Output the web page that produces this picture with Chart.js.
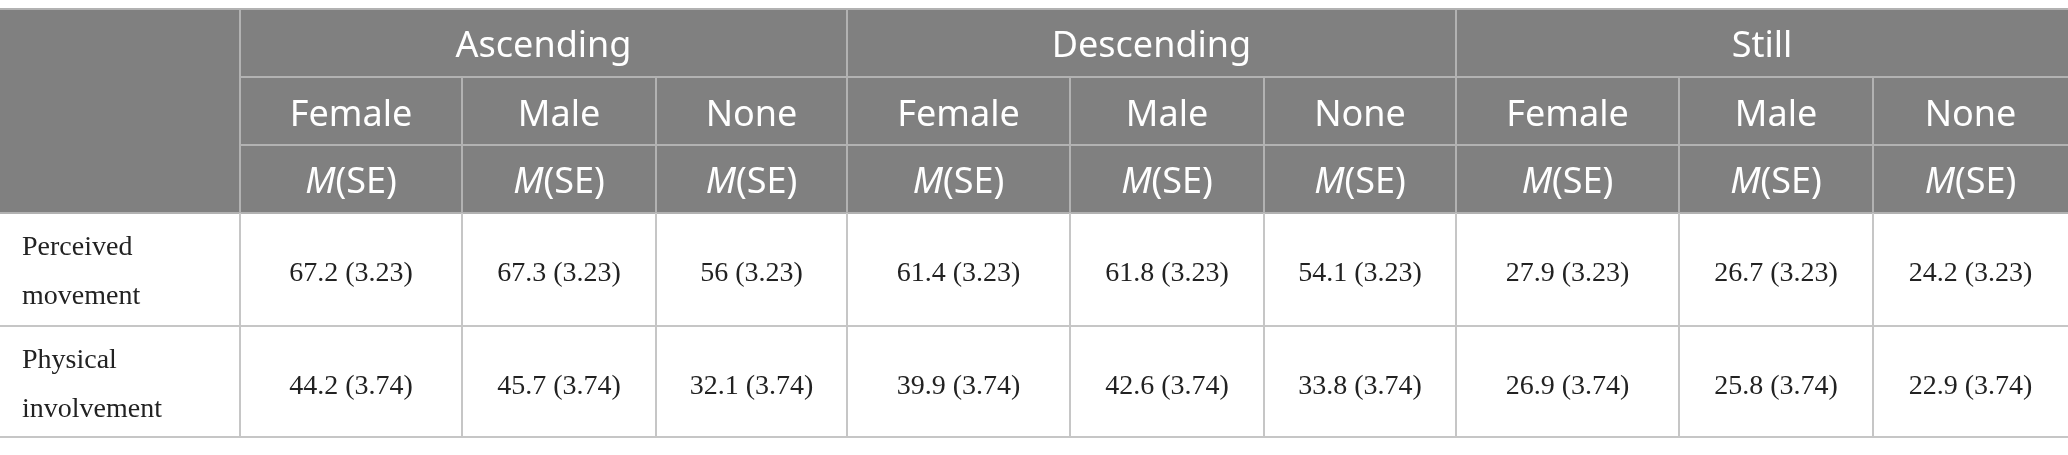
<!DOCTYPE html>
<html>
<head>
<meta charset="utf-8">
<script src="https://cdn.jsdelivr.net/npm/chart.js@4/dist/chart.umd.min.js"></script>
<style>
    html, body { margin: 0; padding: 0; background: #fff; }
    #wrap { width: 2068px; height: 455px; }
</style>
</head>
<body>
<div id="wrap"><canvas id="tableChart"></canvas></div>
<script>
// Table content
const conditions = ["Ascending", "Descending", "Still"];
const voices = ["Female", "Male", "None"];
const measures = [["Perceived", "movement"], ["Physical", "involvement"]];
const perceivedMean = [67.2, 67.3, 56, 61.4, 61.8, 54.1, 27.9, 26.7, 24.2];
const perceivedSE = [3.23, 3.23, 3.23, 3.23, 3.23, 3.23, 3.23, 3.23, 3.23];
const physicalMean = [44.2, 45.7, 32.1, 39.9, 42.6, 33.8, 26.9, 25.8, 22.9];
const physicalSE = [3.74, 3.74, 3.74, 3.74, 3.74, 3.74, 3.74, 3.74, 3.74];

// Layout (scale units)
const colWidths = [240, 222, 194, 191, 223, 194, 192, 223, 194, 195];
const rowHeights = [68, 68, 68, 113, 111];
const tableTop = 9;

const colEdges = [0];
colWidths.forEach(w => colEdges.push(colEdges[colEdges.length - 1] + w));
const rowEdges = [tableTop];
rowHeights.forEach(h => rowEdges.push(rowEdges[rowEdges.length - 1] + h));

const bodyRows = [
    { label: measures[0], mean: perceivedMean, se: perceivedSE },
    { label: measures[1], mean: physicalMean, se: physicalSE }
];

const headFont = '36px "Noto Sans"';
const headItalic = 'italic 36px "Noto Sans"';
const bodyFont = '28px "Liberation Serif"';

const tablePlugin = {
    id: "tablePlugin",
    afterDraw(chart) {
        const ctx = chart.ctx;
        const xs = chart.scales.x;
        const ys = chart.scales.y;
        const px = v => xs.getPixelForValue(v);
        const py = v => ys.getPixelForValue(v);
        const last = colEdges.length - 1;

        const line = (x1, y1, x2, y2, color) => {
            ctx.strokeStyle = color;
            ctx.lineWidth = 2;
            ctx.beginPath();
            ctx.moveTo(px(x1), py(y1));
            ctx.lineTo(px(x2), py(y2));
            ctx.stroke();
        };

        ctx.save();

        // header background
        ctx.fillStyle = "#808080";
        ctx.fillRect(px(0), py(rowEdges[0]), px(colEdges[last]) - px(0), py(rowEdges[3]) - py(rowEdges[0]));

        const headLine = "#b2b2b2";
        const bodyLine = "#c6c6c6";

        // header grid
        line(0, rowEdges[0], colEdges[last], rowEdges[0], headLine);
        [1, 4, 7].forEach(c => line(colEdges[c], rowEdges[0], colEdges[c], rowEdges[3], headLine));
        [2, 3, 5, 6, 8, 9].forEach(c => line(colEdges[c], rowEdges[1], colEdges[c], rowEdges[3], headLine));
        line(colEdges[1], rowEdges[1], colEdges[last], rowEdges[1], headLine);
        line(colEdges[1], rowEdges[2], colEdges[last], rowEdges[2], headLine);
        line(0, rowEdges[3], colEdges[last], rowEdges[3], headLine);

        // body grid
        for (let c = 1; c < last; c++) {
            line(colEdges[c], rowEdges[3], colEdges[c], rowEdges[5], bodyLine);
        }
        line(0, rowEdges[4], colEdges[last], rowEdges[4], bodyLine);
        line(0, rowEdges[5], colEdges[last], rowEdges[5], bodyLine);

        // header text
        ctx.fillStyle = "#ffffff";
        ctx.textBaseline = "alphabetic";
        ctx.textAlign = "center";
        ctx.font = headFont;
        conditions.forEach((cond, i) => {
            const cx = (px(colEdges[1 + 3 * i]) + px(colEdges[4 + 3 * i])) / 2;
            ctx.fillText(cond, cx, py(rowEdges[0] + 48));
        });
        for (let c = 1; c < last; c++) {
            const cx = (px(colEdges[c]) + px(colEdges[c + 1])) / 2;
            ctx.font = headFont;
            ctx.textAlign = "center";
            ctx.fillText(voices[(c - 1) % 3], cx, py(rowEdges[1] + 49));

            // M(SE) with italic M
            ctx.font = headItalic;
            const wM = ctx.measureText("M").width;
            ctx.font = headFont;
            const wRest = ctx.measureText("(SE)").width;
            const start = cx - (wM + wRest) / 2;
            ctx.textAlign = "left";
            ctx.font = headItalic;
            ctx.fillText("M", start, py(rowEdges[2] + 48));
            ctx.font = headFont;
            ctx.fillText("(SE)", start + wM, py(rowEdges[2] + 48));
        }

        // body text
        ctx.fillStyle = "#222222";
        ctx.font = bodyFont;
        bodyRows.forEach((row, r) => {
            const top = rowEdges[3 + r];
            ctx.textAlign = "left";
            ctx.fillText(row.label[0], px(22), py(top + 42));
            ctx.fillText(row.label[1], px(22), py(top + 91));
            ctx.textAlign = "center";
            row.mean.forEach((m, i) => {
                const cx = (px(colEdges[i + 1]) + px(colEdges[i + 2])) / 2;
                ctx.fillText(m + " (" + row.se[i].toFixed(2) + ")", cx, py(top + 68));
            });
        });

        ctx.restore();
    }
};

new Chart(document.getElementById("tableChart"), {
    type: "scatter",
    data: { datasets: [] },
    options: {
        responsive: true,
        maintainAspectRatio: false,
        animation: false,
        layout: { padding: 0 },
        plugins: { legend: { display: false }, tooltip: { enabled: false } },
        scales: {
            x: { type: "linear", display: false, min: 0, max: colEdges[colEdges.length - 1] },
            y: { type: "linear", display: false, min: 0, max: 455, reverse: true }
        }
    },
    plugins: [tablePlugin]
});
</script>
</body>
</html>
